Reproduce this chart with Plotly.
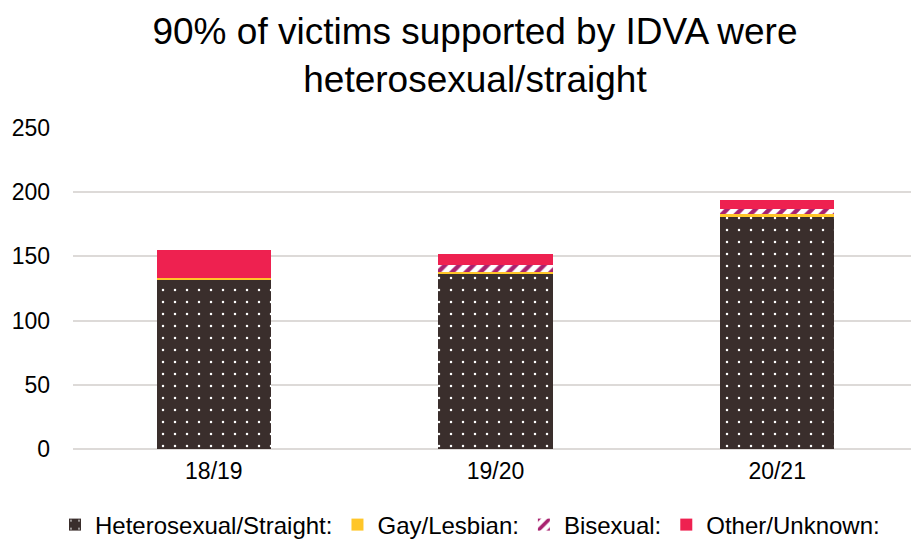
import plotly.graph_objects as go

categories = ["18/19", "19/20", "20/21"]
hetero = [132, 136, 181]
gay = [1, 2, 2]
bi = [0, 5, 4]
other = [22, 9, 7]
y_ticks = [0, 50, 100, 150, 200, 250]

fig = go.Figure()
fig.add_trace(go.Bar(
    x=categories, y=hetero, name="Heterosexual/Straight:",
    marker=dict(color="#3A2E2C", line=dict(width=0),
                pattern=dict(shape=".", fgcolor="#FFFFFF", bgcolor="#3A2E2C",
                             size=12, solidity=0.035, fillmode="replace")),
))
fig.add_trace(go.Bar(
    x=categories, y=gay, name="Gay/Lesbian:",
    marker=dict(color="#FFC629", line=dict(width=0)),
))
fig.add_trace(go.Bar(
    x=categories, y=bi, name="Bisexual:",
    marker=dict(color="#FFFFFF", line=dict(width=0),
                pattern=dict(shape="/", fgcolor="#A8216F", bgcolor="#FFFFFF",
                             size=10, solidity=0.45, fillmode="replace")),
))
fig.add_trace(go.Bar(
    x=categories, y=other, name="Other/Unknown:",
    marker=dict(color="#EE2150", line=dict(width=0)),
))

W, H = 911, 532
fig.update_layout(
    barmode="stack",
    bargap=0.595,
    width=W, height=H,
    margin=dict(l=65, r=1, t=120, b=91),
    paper_bgcolor="white", plot_bgcolor="white",
    font=dict(family="Liberation Sans, Arial, sans-serif", color="#000000"),
    title=dict(text="90% of victims supported by IDVA were<br>heterosexual/straight",
               x=467 / W, xanchor="center", y=1 - 36 / H, yanchor="top",
               font=dict(size=37, color="#000000")),
    legend=dict(orientation="h", xref="container", x=47 / W, xanchor="left",
                yref="container", y=1 - 517 / H, yanchor="middle",
                font=dict(size=24, color="#000000"), traceorder="normal",
                itemwidth=30),
    showlegend=True,
)
fig.update_xaxes(showgrid=False, showline=False, ticks="", automargin=False,
                 tickfont=dict(size=23, color="#000000"), ticklabelstandoff=6)
fig.update_yaxes(range=[0, 250], tickvals=y_ticks, showgrid=True, automargin=False,
                 gridcolor="#DDDAD8", gridwidth=1.5, zeroline=True,
                 zerolinecolor="#DDDAD8", zerolinewidth=1.5,
                 tickfont=dict(size=23, color="#000000"), ticks="",
                 ticklabelstandoff=22)

fig.write_html("out.html")
